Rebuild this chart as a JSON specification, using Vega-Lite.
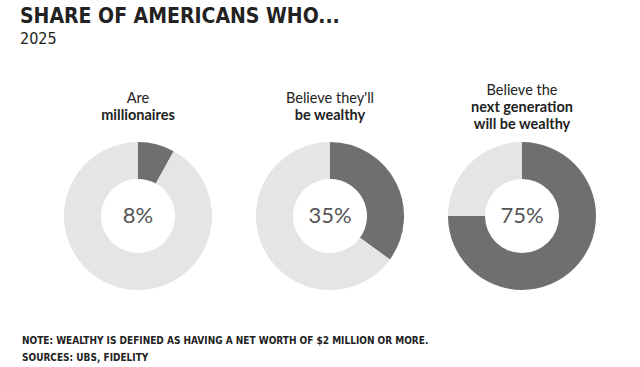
{
  "$schema": "https://vega.github.io/schema/vega-lite/v6.json",
  "background": "white",
  "padding": {"left": 20, "top": 6, "right": 10, "bottom": 6},
  "datasets": {
    "shares": [
      {"group": "millionaires", "part": "yes", "share": 0.08},
      {"group": "millionaires", "part": "no", "share": 0.92},
      {"group": "self", "part": "yes", "share": 0.35},
      {"group": "self", "part": "no", "share": 0.65},
      {"group": "nextgen", "part": "yes", "share": 0.75},
      {"group": "nextgen", "part": "no", "share": 0.25}
    ]
  },
  "title": {
    "text": "SHARE OF AMERICANS WHO...",
    "subtitle": "2025",
    "anchor": "start",
    "dx": -2,
    "font": "DejaVu Sans Condensed",
    "fontSize": 21,
    "fontWeight": "bold",
    "color": "#222222",
    "subtitleFont": "DejaVu Sans Condensed",
    "subtitleFontSize": 16,
    "subtitleFontWeight": "normal",
    "subtitleColor": "#222222",
    "subtitlePadding": 4,
    "offset": 36
  },
  "config": {
    "view": {"stroke": null},
    "concat": {"spacing": 0}
  },
  "vconcat": [
    {
      "title": {
        "text": ["NOTE: WEALTHY IS DEFINED AS HAVING A NET WORTH OF $2 MILLION OR MORE.", "SOURCES: UBS, FIDELITY"],
        "orient": "bottom",
        "anchor": "start",
        "dx": -20,
        "font": "DejaVu Sans Condensed",
        "fontSize": 10,
        "fontWeight": "bold",
        "color": "#222222",
        "lineHeight": 17,
        "offset": 45
      },
      "spacing": 0,
      "hconcat": [
        {
          "width": 192,
          "height": 150,
          "title": {
            "text": "Are",
            "subtitle": "millionaires",
            "font": "Lato",
            "fontSize": 14.5,
            "fontWeight": "normal",
            "color": "#222222",
            "subtitleFont": "Lato",
            "subtitleFontSize": 14.5,
            "subtitleFontWeight": "bold",
            "subtitleColor": "#222222",
            "subtitlePadding": 2,
            "offset": 18
          },
          "data": {"name": "shares"},
          "transform": [{"filter": "datum.group === 'millionaires'"}],
          "layer": [
            {
              "mark": {"type": "arc", "outerRadius": 74, "innerRadius": 37},
              "encoding": {
                "theta": {"field": "share", "type": "quantitative", "stack": true},
                "order": {"field": "part", "sort": "descending"},
                "color": {"field": "part", "type": "nominal", "scale": {"domain": ["yes", "no"], "range": ["#6f6f6f", "#e5e5e5"]}, "legend": null}
              }
            },
            {
              "transform": [{"filter": "datum.part === 'yes'"}],
              "mark": {"type": "text", "font": "Lato", "fontSize": 22, "color": "#555555", "baseline": "middle", "align": "center"},
              "encoding": {"text": {"field": "share", "type": "quantitative", "format": ".0%"}}
            }
          ]
        },
        {
          "width": 192,
          "height": 150,
          "title": {
            "text": "Believe they'll",
            "subtitle": "be wealthy",
            "font": "Lato",
            "fontSize": 14.5,
            "fontWeight": "normal",
            "color": "#222222",
            "subtitleFont": "Lato",
            "subtitleFontSize": 14.5,
            "subtitleFontWeight": "bold",
            "subtitleColor": "#222222",
            "subtitlePadding": 2,
            "offset": 18
          },
          "data": {"name": "shares"},
          "transform": [{"filter": "datum.group === 'self'"}],
          "layer": [
            {
              "mark": {"type": "arc", "outerRadius": 74, "innerRadius": 37},
              "encoding": {
                "theta": {"field": "share", "type": "quantitative", "stack": true},
                "order": {"field": "part", "sort": "descending"},
                "color": {"field": "part", "type": "nominal", "scale": {"domain": ["yes", "no"], "range": ["#6f6f6f", "#e5e5e5"]}, "legend": null}
              }
            },
            {
              "transform": [{"filter": "datum.part === 'yes'"}],
              "mark": {"type": "text", "font": "Lato", "fontSize": 22, "color": "#555555", "baseline": "middle", "align": "center"},
              "encoding": {"text": {"field": "share", "type": "quantitative", "format": ".0%"}}
            }
          ]
        },
        {
          "width": 192,
          "height": 150,
          "title": {
            "text": "Believe the",
            "subtitle": ["next generation", "will be wealthy"],
            "font": "Lato",
            "fontSize": 14.5,
            "fontWeight": "normal",
            "color": "#222222",
            "subtitleFont": "Lato",
            "subtitleFontSize": 14.5,
            "subtitleFontWeight": "bold",
            "subtitleColor": "#222222",
            "subtitleLineHeight": 17,
            "subtitlePadding": 2,
            "offset": 9
          },
          "data": {"name": "shares"},
          "transform": [{"filter": "datum.group === 'nextgen'"}],
          "layer": [
            {
              "mark": {"type": "arc", "outerRadius": 74, "innerRadius": 37},
              "encoding": {
                "theta": {"field": "share", "type": "quantitative", "stack": true},
                "order": {"field": "part", "sort": "descending"},
                "color": {"field": "part", "type": "nominal", "scale": {"domain": ["yes", "no"], "range": ["#6f6f6f", "#e5e5e5"]}, "legend": null}
              }
            },
            {
              "transform": [{"filter": "datum.part === 'yes'"}],
              "mark": {"type": "text", "font": "Lato", "fontSize": 22, "color": "#555555", "baseline": "middle", "align": "center"},
              "encoding": {"text": {"field": "share", "type": "quantitative", "format": ".0%"}}
            }
          ]
        }
      ]
    }
  ]
}
